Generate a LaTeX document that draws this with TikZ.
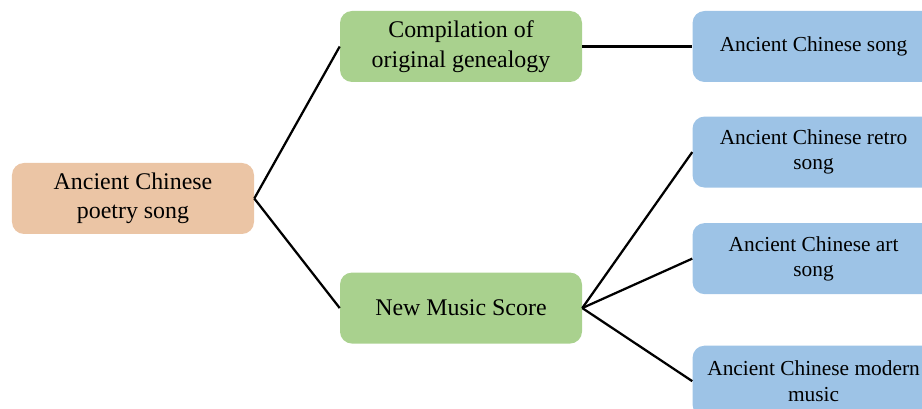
\documentclass[tikz,border=0pt]{standalone}
\usepackage{fontspec}
\setmainfont{Liberation Serif}
\usepackage{xcolor}
\usetikzlibrary{positioning}

\definecolor{rootpeach}{HTML}{EBC5A5}
\definecolor{midgreen}{HTML}{A9D18E}
\definecolor{leafblue}{HTML}{9DC3E6}

\begin{document}
\begin{tikzpicture}[
    box/.style={rectangle, rounded corners=0.3cm, minimum width=6.05cm, minimum height=1.775cm, align=center, inner sep=2pt},
    rootbox/.style={box, fill=rootpeach, font=\fontsize{17}{21}\selectfont},
    midbox/.style={box, fill=midgreen, font=\fontsize{17}{21}\selectfont},
    leafbox/.style={box, fill=leafblue, font=\fontsize{15.2}{18}\selectfont},
    link/.style={line width=1.6pt}
]
\clip (0,0) rectangle (23.05,-10.225);

% Nodes
\node (root) [rootbox] at (3.325,-4.9625) {Ancient Chinese\\ poetry song};

\node (compile) [midbox] at (11.525,-1.1625) {Compilation of\\ original genealogy};
\node (score) [midbox, below=4.75cm of compile] {New Music Score};

\node (song) [leafbox, right=2.75cm of compile] {Ancient Chinese song};
\node (retro) [leafbox, below=0.85cm of song] {Ancient Chinese retro\\ song};
\node (art) [leafbox, below=0.875cm of retro] {Ancient Chinese art\\ song};
\node (modern) [leafbox, below=1.275cm of art] {Ancient Chinese modern\\ music};

% Edges
\draw [link] (root.east) -- (compile.west);
\draw [link] (root.east) -- (score.west);
\draw [link] (compile.east) -- (song.west);
\draw [link] (score.east) -- (retro.west);
\draw [link] (score.east) -- (art.west);
\draw [link] (score.east) -- (modern.west);

\end{tikzpicture}
\end{document}
